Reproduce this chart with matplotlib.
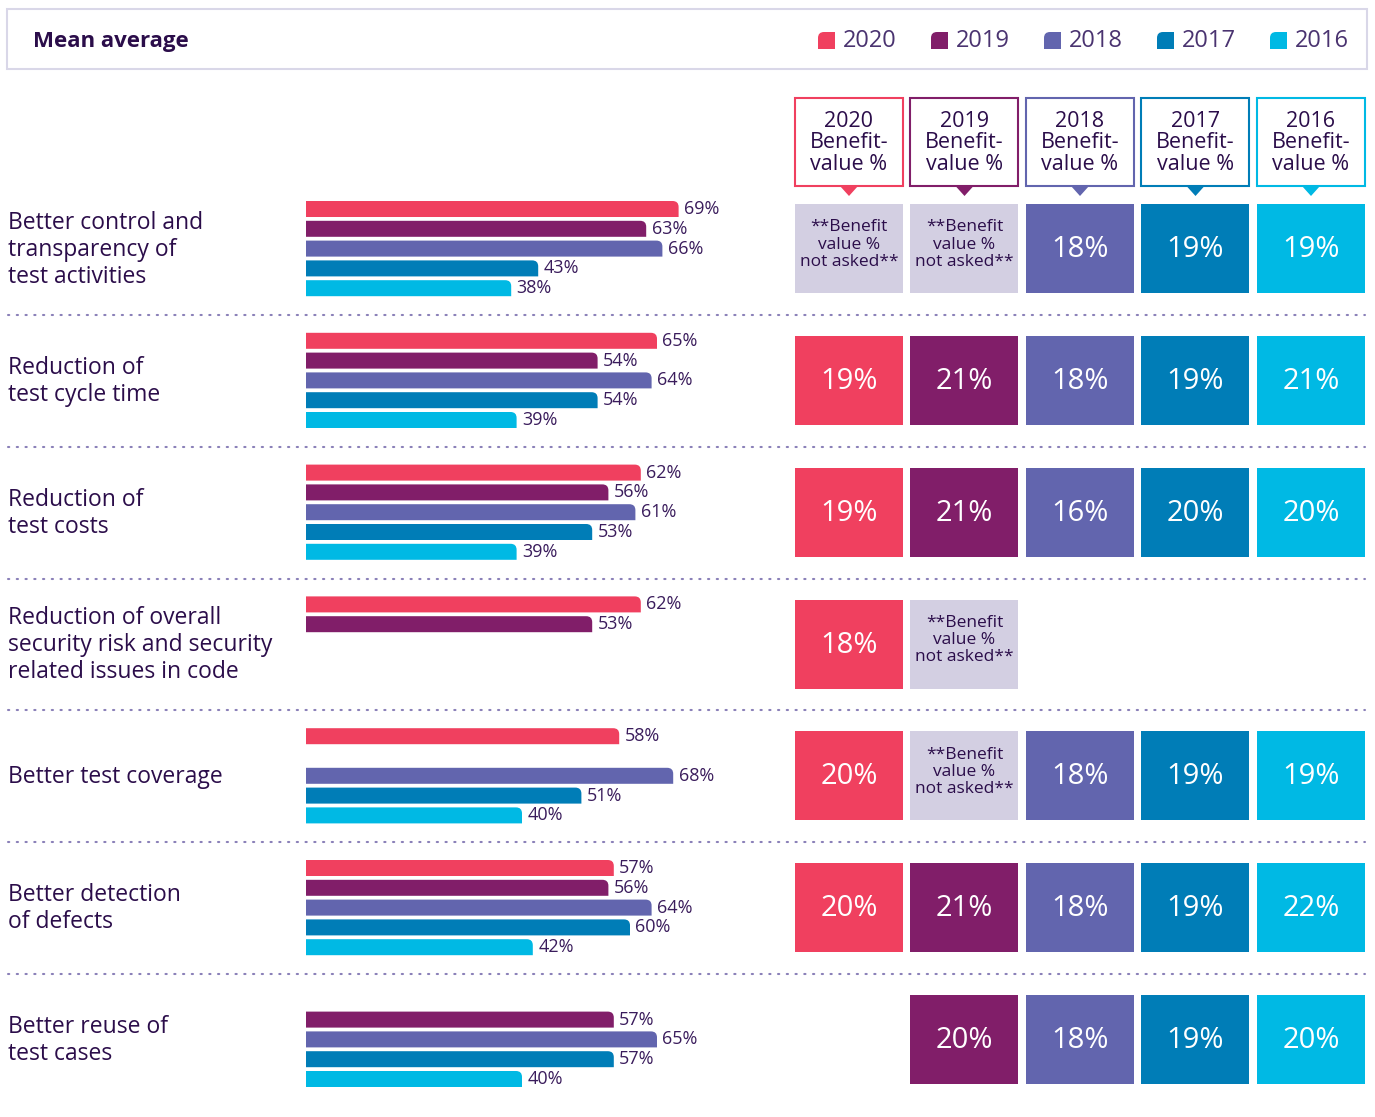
import numpy as np
import matplotlib
matplotlib.use('Agg')
import matplotlib.pyplot as plt
from matplotlib.patches import Rectangle, Polygon, PathPatch
from matplotlib.path import Path

plt.rcParams['font.family'] = ['Open Sans', 'DejaVu Sans']

# ---- data -------------------------------------------------------------
years = ['2020', '2019', '2018', '2017', '2016']
categories = [
    'Better control and\ntransparency of\ntest activities',
    'Reduction of\ntest cycle time',
    'Reduction of\ntest costs',
    'Reduction of overall\nsecurity risk and security\nrelated issues in code',
    'Better test coverage',
    'Better detection\nof defects',
    'Better reuse of\ntest cases',
]
# share of respondents (%) -- None = not shown
bars_2020 = [69, 65, 62, 62, 58, 57, None]
bars_2019 = [63, 54, 56, 53, None, 56, 57]
bars_2018 = [66, 64, 61, None, 68, 64, 65]
bars_2017 = [43, 54, 53, None, 51, 60, 57]
bars_2016 = [38, 39, 39, None, 40, 42, 40]
# benefit value (%) -- 'NA' = not asked, None = empty cell
ben_2020 = ['NA', 19, 19, 18, 20, 20, None]
ben_2019 = ['NA', 21, 21, 'NA', 'NA', 21, 20]
ben_2018 = [18, 18, 16, None, 18, 18, 18]
ben_2017 = [19, 19, 20, None, 19, 19, 19]
ben_2016 = [19, 21, 20, None, 19, 22, 20]

bars = [bars_2020, bars_2019, bars_2018, bars_2017, bars_2016]
bens = [ben_2020, ben_2019, ben_2018, ben_2017, ben_2016]

COLORS = ['#f0405f', '#811e69', '#6265ae', '#007db7', '#00b9e4']
DARK = '#2b0d4a'
LABEL = '#3a1c5c'
NA_BG = '#d3cfe2'

W, H = 1375, 1117
fig = plt.figure(figsize=(W / 100, H / 100), dpi=100)
fig.patch.set_facecolor('white')
bg = fig.add_axes([0, 0, 1, 1])
bg.set_xlim(0, W); bg.set_ylim(H, 0); bg.axis('off')


def round_tr(ax, rect, rx, ry, color):
    # redraw a bar with its top-right corner rounded
    x0, y0 = rect.get_x(), rect.get_y()
    x1, y1 = x0 + rect.get_width(), y0 + rect.get_height()
    verts = [(x0, y0), (x1 - rx, y0), (x1, y0), (x1, y0 + ry),
             (x1, y1), (x0, y1), (x0, y0)]
    codes = [Path.MOVETO, Path.LINETO, Path.CURVE3, Path.CURVE3,
             Path.LINETO, Path.LINETO, Path.CLOSEPOLY]
    rect.set_visible(False)
    ax.add_patch(PathPatch(Path(verts, codes), fc=color, ec='none'))


# header strip
bg.add_patch(Rectangle((7, 9), 1360, 60, fill=False, ec='#d9d7e8', lw=1.5))
bg.text(33, 41, 'Mean average', fontsize=16, fontweight='bold',
        color=DARK, va='center', ha='left')
leg_x = [818, 931, 1044, 1157, 1270]
for x, yr, c in zip(leg_x, years, COLORS):
    s, r = 17, 6
    verts = [(x, 49), (x, 32 + r), (x, 32), (x + r, 32), (x + s, 32),
             (x + s, 49), (x, 49)]
    codes = [Path.MOVETO, Path.LINETO, Path.CURVE3, Path.CURVE3,
             Path.LINETO, Path.LINETO, Path.CLOSEPOLY]
    bg.add_patch(PathPatch(Path(verts, codes), fc=c, ec='none'))
    bg.text(x + 25, 41, yr, fontsize=17, color='#4a3370',
            va='center', ha='left')

# column headers
col_x = [795, 910.5, 1026, 1141.5, 1257]
cw = 108
for x, yr, c in zip(col_x, years, COLORS):
    bg.add_patch(Rectangle((x, 98), cw, 88, fc='white', ec=c, lw=1.5))
    bg.text(x + cw / 2, 143, f'{yr}\nBenefit-\nvalue %', fontsize=15.5,
            color=DARK, ha='center', va='center', linespacing=1.03)
    cx = x + cw / 2
    bg.add_patch(Polygon([(cx - 9, 186), (cx + 9, 186), (cx, 196)],
                         closed=True, fc=c, ec='none'))

# rows
g0, gstep, sstep = 209, 131.8, 19.8
bar_h = 16
bax = fig.add_axes([306 / W, 0, 540 / W, 1])
bax.set_xlim(0, 100); bax.set_ylim(H, 0); bax.axis('off')

for g, cat in enumerate(categories):
    centre = g0 + g * gstep + 2 * sstep
    bg.text(8, centre + 1, cat, fontsize=16.5, color=DARK, ha='left',
            va='center', linespacing=1.17)
    for i in range(5):
        v = bars[i][g]
        if v is None:
            continue
        y = g0 + g * gstep + i * sstep
        cont = bax.barh(y, v, height=bar_h, left=0, color=COLORS[i])
        round_tr(bax, cont.patches[0], 6 / 5.4, 6, COLORS[i])
        bax.text(v + 1.0, y, f'{v}%', fontsize=13, color=LABEL,
                 ha='left', va='center')
    for i in range(5):
        b = bens[i][g]
        if b is None:
            continue
        x = col_x[i]
        top = centre - 44.5
        if b == 'NA':
            bg.add_patch(Rectangle((x, top), cw, 89, fc=NA_BG, ec='none'))
            bg.text(x + cw / 2, centre - 4, '**Benefit\nvalue %\nnot asked**',
                    fontsize=12.5, color=DARK, ha='center', va='center',
                    linespacing=1.1)
        else:
            bg.add_patch(Rectangle((x, top), cw, 89, fc=COLORS[i], ec='none'))
            bg.text(x + cw / 2, centre + 1, f'{b}%', fontsize=21, color='white',
                    ha='center', va='center')
    if g < len(categories) - 1:
        sep = g0 + g * gstep + 106
        bg.plot([8, 1365], [sep, sep], color='#8a80b8', lw=1.5,
                linestyle=(0, (0.6, 3.6)), dash_capstyle='round')

fig.savefig('out.png', dpi=100, facecolor='white')
